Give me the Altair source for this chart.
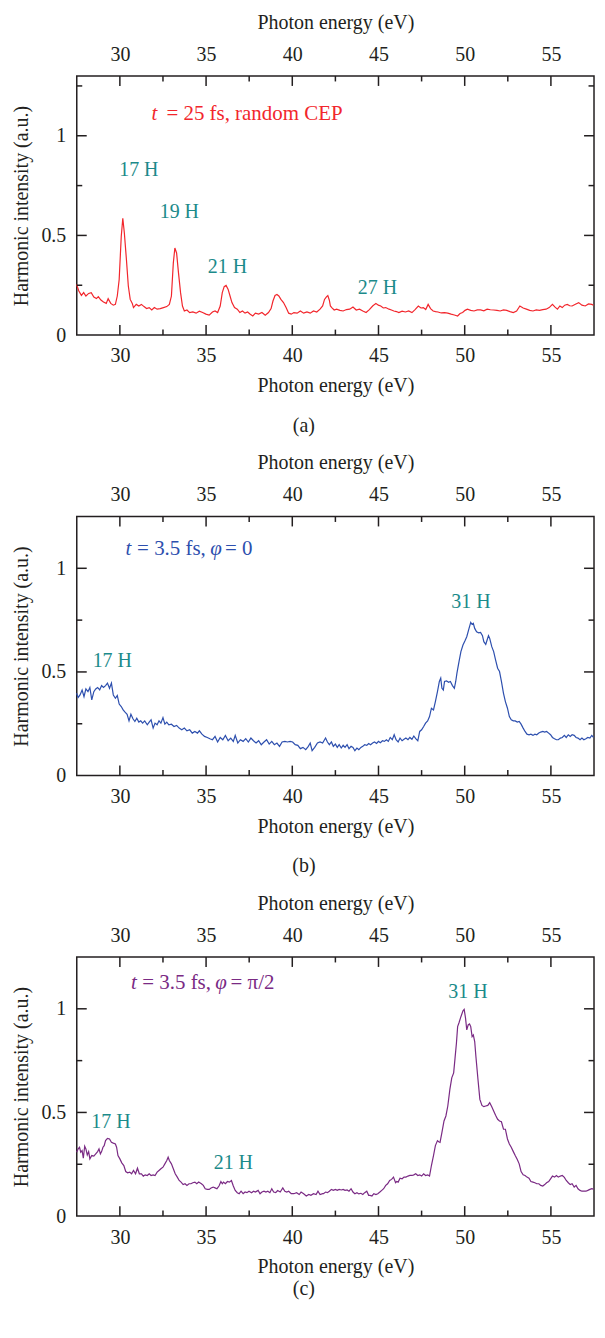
import altair as alt
import pandas as pd

FONT = "Liberation Serif"
INK = "#231f20"
TEAL = "#1c8a8a"
RED = "#f2262c"
BLUE = "#2d4fae"
PURPLE = "#7a2a84"

# ---------------- panel (a): t = 25 fs, random CEP ----------------
energy_a = [27.49, 27.62, 27.77, 27.90, 28.03, 28.19, 28.34, 28.49, 28.64, 28.75, 28.90, 29.05, 29.21, 29.32,
            29.47, 29.62, 29.74, 29.85, 29.96, 30.08, 30.17, 30.26, 30.38, 30.49, 30.60, 30.72, 30.79, 30.95,
            31.10, 31.25, 31.40, 31.55, 31.70, 31.85, 32.00, 32.16, 32.34, 32.53, 32.72, 32.87, 32.99, 33.10,
            33.19, 33.29, 33.40, 33.52, 33.63, 33.74, 33.89, 34.05, 34.23, 34.42, 34.61, 34.80, 34.99, 35.18,
            35.37, 35.52, 35.67, 35.82, 35.94, 36.05, 36.16, 36.28, 36.39, 36.50, 36.65, 36.81, 36.96, 37.11,
            37.26, 37.41, 37.56, 37.71, 37.86, 38.05, 38.24, 38.43, 38.62, 38.77, 38.88, 39.00, 39.11, 39.22,
            39.34, 39.49, 39.64, 39.79, 39.94, 40.09, 40.28, 40.47, 40.66, 40.85, 41.04, 41.23, 41.42, 41.61,
            41.76, 41.87, 41.98, 42.06, 42.15, 42.21, 42.29, 42.43, 42.57, 42.76, 42.95, 43.14, 43.33, 43.52,
            43.71, 43.90, 44.09, 44.28, 44.47, 44.66, 44.85, 44.99, 45.13, 45.28, 45.42, 45.61, 45.75, 45.89,
            46.04, 46.18, 46.37, 46.56, 46.75, 46.94, 47.12, 47.31, 47.46, 47.60, 47.74, 47.88, 48.02, 48.17,
            48.31, 48.45, 48.64, 48.83, 49.02, 49.21, 49.40, 49.59, 49.73, 49.88, 50.02, 50.16, 50.35, 50.54,
            50.73, 50.92, 51.11, 51.30, 51.49, 51.68, 51.87, 52.06, 52.25, 52.44, 52.63, 52.82, 53.01, 53.20,
            53.39, 53.58, 53.77, 53.96, 54.15, 54.34, 54.53, 54.72, 54.90, 55.09, 55.24, 55.38, 55.52, 55.66,
            55.80, 55.95, 56.09, 56.23, 56.42, 56.61, 56.80, 56.99, 57.18, 57.37, 57.47]
intensity_a = [0.254, 0.221, 0.199, 0.213, 0.196, 0.209, 0.213, 0.191, 0.183, 0.193, 0.176, 0.166, 0.159, 0.183,
               0.159, 0.150, 0.154, 0.196, 0.279, 0.495, 0.586, 0.512, 0.379, 0.246, 0.179, 0.159, 0.138, 0.154,
               0.146, 0.154, 0.143, 0.133, 0.138, 0.126, 0.138, 0.130, 0.133, 0.138, 0.143, 0.154, 0.196, 0.362,
               0.437, 0.412, 0.312, 0.213, 0.146, 0.121, 0.126, 0.113, 0.116, 0.110, 0.120, 0.113, 0.105, 0.100,
               0.116, 0.121, 0.113, 0.146, 0.213, 0.243, 0.249, 0.229, 0.196, 0.163, 0.138, 0.130, 0.113, 0.121,
               0.110, 0.116, 0.105, 0.096, 0.110, 0.105, 0.113, 0.100, 0.113, 0.133, 0.171, 0.199, 0.204, 0.196,
               0.179, 0.163, 0.138, 0.110, 0.105, 0.113, 0.110, 0.121, 0.110, 0.116, 0.110, 0.121, 0.116, 0.130,
               0.146, 0.179, 0.192, 0.198, 0.175, 0.146, 0.138, 0.126, 0.130, 0.124, 0.121, 0.128, 0.130, 0.141,
               0.126, 0.130, 0.121, 0.113, 0.128, 0.146, 0.159, 0.150, 0.146, 0.136, 0.138, 0.130, 0.126, 0.121,
               0.118, 0.113, 0.120, 0.116, 0.121, 0.113, 0.128, 0.146, 0.136, 0.138, 0.128, 0.154, 0.133, 0.121,
               0.118, 0.116, 0.111, 0.113, 0.110, 0.105, 0.101, 0.096, 0.108, 0.113, 0.124, 0.130, 0.124, 0.121,
               0.126, 0.126, 0.122, 0.130, 0.127, 0.126, 0.124, 0.121, 0.126, 0.124, 0.118, 0.113, 0.121, 0.146,
               0.136, 0.130, 0.124, 0.121, 0.126, 0.124, 0.128, 0.130, 0.138, 0.154, 0.140, 0.130, 0.146, 0.138,
               0.150, 0.154, 0.147, 0.146, 0.155, 0.163, 0.150, 0.146, 0.156, 0.154, 0.150]

# ---------------- panel (b): t = 3.5 fs, phi = 0 ----------------
energy_b = [27.49, 27.58, 27.69, 27.81, 27.92, 28.03, 28.15, 28.26, 28.37, 28.49, 28.60, 28.71, 28.83, 28.94,
            29.05, 29.17, 29.28, 29.40, 29.51, 29.62, 29.74, 29.85, 29.96, 30.08, 30.19, 30.30, 30.42, 30.53,
            30.64, 30.76, 30.87, 30.98, 31.10, 31.21, 31.32, 31.44, 31.59, 31.70, 31.81, 31.93, 32.04, 32.16,
            32.27, 32.38, 32.50, 32.61, 32.72, 32.84, 32.99, 33.14, 33.29, 33.44, 33.59, 33.74, 33.89, 34.05,
            34.20, 34.35, 34.50, 34.61, 34.76, 34.91, 35.07, 35.22, 35.37, 35.52, 35.67, 35.82, 35.97, 36.12,
            36.28, 36.43, 36.58, 36.69, 36.84, 36.99, 37.15, 37.30, 37.45, 37.60, 37.75, 37.90, 38.05, 38.20,
            38.36, 38.51, 38.66, 38.81, 38.96, 39.11, 39.26, 39.41, 39.57, 39.72, 39.87, 40.02, 40.17, 40.32,
            40.47, 40.62, 40.78, 40.93, 41.04, 41.15, 41.30, 41.46, 41.61, 41.76,
            41.93, 42.04, 42.15, 42.27, 42.38, 42.50, 42.61, 42.72, 42.84, 42.95, 43.06, 43.18, 43.29, 43.41,
            43.52, 43.63, 43.75, 43.86, 43.98, 44.09, 44.20, 44.32, 44.43, 44.54, 44.66, 44.77, 44.89, 45.00,
            45.11, 45.23, 45.34, 45.46, 45.57, 45.68, 45.80, 45.91, 46.02, 46.14, 46.25, 46.37, 46.48, 46.59,
            46.71, 46.82, 46.94, 47.05, 47.16, 47.28, 47.39, 47.50, 47.62, 47.73, 47.85, 47.96, 48.07, 48.19,
            48.30, 48.42, 48.53, 48.61, 48.68, 48.76, 48.83, 48.95, 49.06, 49.17, 49.29, 49.40, 49.48, 49.55,
            49.67, 49.78, 49.90, 50.01, 50.12, 50.24, 50.35, 50.43, 50.50, 50.58, 50.69, 50.81, 50.92, 51.03,
            51.11, 51.22, 51.30, 51.38, 51.45, 51.57, 51.68, 51.79, 51.91, 52.02, 52.13, 52.25, 52.36, 52.48,
            52.59, 52.70, 52.82, 52.93, 53.05, 53.16, 53.27, 53.39, 53.50, 53.61, 53.73, 53.84, 53.96, 54.07,
            54.18, 54.30, 54.41, 54.53, 54.64, 54.75, 54.87, 54.98, 55.09, 55.21, 55.32, 55.43, 55.55, 55.66,
            55.78, 55.89, 56.01, 56.12, 56.23, 56.35, 56.46, 56.57, 56.69, 56.80, 56.91, 57.03, 57.14, 57.26,
            57.37, 57.47]
intensity_b = [0.397, 0.377, 0.389, 0.413, 0.381, 0.418, 0.405, 0.425, 0.365, 0.405, 0.418, 0.425, 0.413, 0.434,
               0.425, 0.434, 0.446, 0.421, 0.446, 0.389, 0.373, 0.386, 0.345, 0.333, 0.317, 0.306, 0.296, 0.264,
               0.296, 0.274, 0.261, 0.277, 0.258, 0.264, 0.253, 0.264, 0.245, 0.258, 0.269, 0.229, 0.253, 0.245,
               0.264, 0.253, 0.280, 0.248, 0.258, 0.245, 0.248, 0.237, 0.242, 0.229, 0.221, 0.229, 0.216, 0.221,
               0.205, 0.213, 0.205, 0.216, 0.200, 0.189, 0.184, 0.178, 0.173, 0.189, 0.162, 0.184, 0.173, 0.194,
               0.168, 0.181, 0.165, 0.194, 0.157, 0.173, 0.165, 0.178, 0.162, 0.181, 0.168, 0.157, 0.168, 0.149,
               0.162, 0.173, 0.152, 0.165, 0.149, 0.157, 0.141, 0.162, 0.165, 0.162, 0.165, 0.162, 0.149, 0.146,
               0.130, 0.136, 0.125, 0.141, 0.157, 0.120, 0.136, 0.157, 0.162, 0.157,
               0.181, 0.162, 0.149, 0.162, 0.141, 0.152, 0.136, 0.149, 0.133, 0.146, 0.136, 0.149, 0.130, 0.141,
               0.136, 0.120, 0.133, 0.125, 0.136, 0.141, 0.149, 0.146, 0.155, 0.149, 0.157, 0.162, 0.155, 0.165,
               0.159, 0.168, 0.165, 0.173, 0.165, 0.184, 0.173, 0.197, 0.173, 0.162, 0.181, 0.168, 0.175, 0.181,
               0.173, 0.184, 0.175, 0.191, 0.178, 0.168, 0.213, 0.221, 0.237, 0.253, 0.264, 0.285, 0.325, 0.317,
               0.357, 0.405, 0.454, 0.470, 0.421, 0.413, 0.454, 0.457, 0.450, 0.454, 0.434, 0.421, 0.454, 0.494,
               0.550, 0.598, 0.630, 0.649, 0.670, 0.707, 0.739, 0.729, 0.734, 0.710, 0.694, 0.689, 0.691, 0.675,
               0.646, 0.633, 0.654, 0.675, 0.662, 0.622, 0.598, 0.558, 0.518, 0.502, 0.454, 0.397, 0.357, 0.325,
               0.285, 0.269, 0.264, 0.264, 0.258, 0.261, 0.248, 0.229, 0.213, 0.200, 0.197, 0.200, 0.194, 0.200,
               0.197, 0.205, 0.210, 0.213, 0.210, 0.213, 0.205, 0.197, 0.184, 0.178, 0.173, 0.173, 0.181, 0.184,
               0.194, 0.184, 0.197, 0.189, 0.197, 0.194, 0.184, 0.181, 0.173, 0.181, 0.173, 0.178, 0.184, 0.181,
               0.194, 0.184]

# ---------------- panel (c): t = 3.5 fs, phi = pi/2 ----------------
energy_c = [27.49, 27.58, 27.66, 27.73, 27.81, 27.88, 27.96, 28.03, 28.11, 28.19, 28.26, 28.37, 28.49, 28.60,
            28.71, 28.79, 28.87, 28.94, 29.02, 29.09, 29.17, 29.28, 29.40, 29.51, 29.62, 29.74, 29.81, 29.89,
            30.00, 30.11, 30.23, 30.34, 30.45, 30.57, 30.68, 30.79, 30.91, 31.02, 31.13, 31.25, 31.36, 31.47,
            31.59, 31.70, 31.81, 31.93, 32.04, 32.16, 32.27, 32.38, 32.50, 32.61, 32.72, 32.80, 32.87, 32.99,
            33.10, 33.21, 33.33, 33.44, 33.55, 33.67, 33.78, 33.89, 34.01, 34.12, 34.23, 34.35, 34.46, 34.57,
            34.73, 34.84, 34.95, 35.07, 35.18, 35.29, 35.41, 35.52, 35.63, 35.75, 35.86, 35.94, 36.01, 36.12,
            36.24, 36.35, 36.47, 36.58, 36.69, 36.81, 36.92, 37.03, 37.15, 37.26, 37.37, 37.49, 37.64, 37.75,
            37.86, 38.02, 38.13, 38.24, 38.36, 38.47, 38.58, 38.70, 38.81, 38.92, 39.04, 39.15, 39.30, 39.45,
            39.57, 39.68, 39.79, 39.94, 40.09, 40.25, 40.40, 40.51, 40.66, 40.81, 40.96, 41.08, 41.23, 41.38,
            41.49, 41.61, 41.76,
            41.81, 41.93, 42.04, 42.15, 42.27, 42.38, 42.50, 42.61, 42.72, 42.84, 42.95, 43.06, 43.18, 43.29,
            43.41, 43.52, 43.63, 43.75, 43.86, 43.98, 44.09, 44.20, 44.32, 44.43, 44.51, 44.62, 44.73, 44.85,
            44.96, 45.08, 45.19, 45.30, 45.42, 45.53, 45.65, 45.76, 45.87, 45.99, 46.06, 46.14, 46.25, 46.37,
            46.48, 46.59, 46.71, 46.82, 46.94, 47.05, 47.16, 47.28, 47.39, 47.50, 47.62, 47.73, 47.85, 47.96,
            48.07, 48.19, 48.30, 48.42, 48.49, 48.57, 48.68, 48.80, 48.91, 49.02, 49.14, 49.25, 49.36, 49.44,
            49.52, 49.59, 49.67, 49.78, 49.90, 49.97, 50.05, 50.12, 50.20, 50.28, 50.35, 50.43, 50.50, 50.58,
            50.65, 50.77, 50.88, 51.00, 51.11, 51.22, 51.34, 51.45, 51.57, 51.68, 51.79, 51.91, 52.02, 52.13,
            52.25, 52.36, 52.48, 52.59, 52.70, 52.82, 52.93, 53.05, 53.16, 53.27, 53.39, 53.50, 53.61, 53.73,
            53.84, 53.96, 54.07, 54.18, 54.30, 54.41, 54.53, 54.64, 54.75, 54.87, 54.98, 55.09, 55.21, 55.32,
            55.43, 55.55, 55.66, 55.78, 55.89, 56.01, 56.12, 56.23, 56.35, 56.46, 56.57, 56.69, 56.80, 56.91,
            57.03, 57.14, 57.26, 57.37, 57.47]
intensity_c = [0.308, 0.324, 0.332, 0.308, 0.316, 0.279, 0.337, 0.324, 0.295, 0.311, 0.276, 0.292, 0.289, 0.300,
               0.311, 0.324, 0.300, 0.311, 0.332, 0.340, 0.364, 0.375, 0.372, 0.356, 0.352, 0.348, 0.332, 0.292,
               0.276, 0.257, 0.244, 0.215, 0.209, 0.212, 0.204, 0.220, 0.204, 0.231, 0.204, 0.204, 0.193, 0.199,
               0.196, 0.204, 0.196, 0.199, 0.196, 0.212, 0.220, 0.228, 0.236, 0.252, 0.268, 0.284, 0.268, 0.252,
               0.228, 0.204, 0.188, 0.172, 0.164, 0.152, 0.156, 0.148, 0.156, 0.156, 0.161, 0.164, 0.156, 0.164,
               0.156, 0.148, 0.132, 0.129, 0.129, 0.136, 0.140, 0.136, 0.132, 0.145, 0.167, 0.156, 0.164, 0.156,
               0.167, 0.164, 0.172, 0.145, 0.124, 0.113, 0.108, 0.120, 0.108, 0.116, 0.113, 0.120, 0.113, 0.120,
               0.116, 0.124, 0.108, 0.116, 0.120, 0.116, 0.120, 0.113, 0.132, 0.116, 0.113, 0.123, 0.116, 0.136,
               0.120, 0.116, 0.120, 0.108, 0.108, 0.113, 0.104, 0.116, 0.108, 0.097, 0.104, 0.100, 0.108, 0.104,
               0.120, 0.104, 0.108,
               0.108, 0.116, 0.113, 0.120, 0.129, 0.124, 0.129, 0.124, 0.129, 0.126, 0.129, 0.124, 0.126, 0.120,
               0.132, 0.116, 0.108, 0.113, 0.107, 0.110, 0.104, 0.113, 0.120, 0.100, 0.100, 0.097, 0.108, 0.104,
               0.108, 0.116, 0.124, 0.132, 0.148, 0.156, 0.172, 0.177, 0.188, 0.161, 0.167, 0.164, 0.183, 0.180,
               0.188, 0.188, 0.193, 0.196, 0.196, 0.199, 0.204, 0.196, 0.199, 0.193, 0.204, 0.196, 0.199, 0.193,
               0.244, 0.292, 0.340, 0.364, 0.359, 0.356, 0.404, 0.459, 0.483, 0.531, 0.611, 0.667, 0.691, 0.762,
               0.834, 0.914, 0.933, 0.962, 0.990, 0.997, 0.954, 0.898, 0.922, 0.927, 0.914, 0.866, 0.874, 0.842,
               0.770, 0.659, 0.563, 0.534, 0.528, 0.531, 0.534, 0.547, 0.528, 0.507, 0.486, 0.467, 0.459, 0.455,
               0.419, 0.419, 0.372, 0.348, 0.332, 0.311, 0.292, 0.273, 0.252, 0.215, 0.199, 0.196, 0.188, 0.183,
               0.167, 0.164, 0.161, 0.156, 0.156, 0.148, 0.145, 0.152, 0.161, 0.167, 0.180, 0.193, 0.188, 0.196,
               0.188, 0.193, 0.196, 0.187, 0.172, 0.161, 0.152, 0.156, 0.140, 0.148, 0.132, 0.124, 0.120, 0.120,
               0.120, 0.124, 0.129, 0.132, 0.130]

# ---------------- annotations ----------------
note_a_italic = ["t"]
note_a_italic_x = [31.84]
note_a_normal = ["= 25 fs, random CEP"]
note_a_normal_x = [32.70]
note_a_y = 1.11
harm_a = ["17 H", "19 H", "21 H", "27 H"]
harm_a_x = [31.10, 33.45, 36.24, 44.94]
harm_a_y = [0.827, 0.617, 0.343, 0.238]

note_b_italic = ["t", "φ"]
note_b_italic_x = [30.32, 35.24]
note_b_normal = ["= 3.5 fs,", "= 0"]
note_b_normal_x = [31.00, 36.10]
note_b_y = 1.095
harm_b = ["17 H", "31 H"]
harm_b_x = [29.56, 50.36]
harm_b_y = [0.552, 0.838]

note_c_italic = ["t", "φ"]
note_c_italic_x = [30.65, 35.53]
note_c_normal = ["= 3.5 fs,", "= π/2"]
note_c_normal_x = [31.30, 36.42]
note_c_y = 1.123
harm_c = ["17 H", "21 H", "31 H"]
harm_c_x = [29.48, 36.58, 50.19]
harm_c_y = [0.454, 0.255, 1.080]

# tick positions
x_major = [30, 35, 40, 45, 50, 55]
x_minor = [32.5, 37.5, 42.5, 47.5, 52.5]
y_major = [0.5, 1.0]

W, H = 519, 260
FS = 20
HS = 20
MAJ, MIN = 10, 5.5


def panel(E, I, color, ymax, it_txt, it_x, nm_txt, nm_x, note_y, h_txt, h_x, h_y, letter, letter_off):
    df = pd.DataFrame({"E": E, "I": I})
    xs = alt.Scale(domain=[27.5, 57.5], nice=False, zero=False)
    ys = alt.Scale(domain=[0, ymax], nice=False, zero=False)
    y_minor = [0.25, 0.75] + ([1.25] if ymax > 1.26 else [])

    def X(field, axis=None):
        return alt.X(field, scale=xs, axis=axis)

    def Y(field, axis=None):
        return alt.Y(field, scale=ys, axis=axis)

    line = alt.Chart(df).mark_line(color=color, strokeWidth=1.2).encode(
        x=X("E:Q", alt.Axis(orient="bottom", values=x_major, ticks=False, domain=False, grid=False,
                            labelPadding=11, format="d", title="Photon energy (eV)", titlePadding=10)),
        y=Y("I:Q", alt.Axis(orient="left", values=[0, 0.5, 1], ticks=False, domain=False, grid=False,
                            labelExpr="datum.value == 0 ? '0' : datum.value == 0.5 ? '0.5' : '1'",
                            labelPadding=11, title="Harmonic intensity (a.u.)", titlePadding=9)),
    )
    top = alt.Chart(df).mark_line(strokeOpacity=0).encode(
        x=X("E:Q", alt.Axis(orient="top", values=x_major, ticks=False, domain=False, grid=False,
                            labelPadding=12, format="d", title="Photon energy (eV)", titlePadding=12)),
        y=Y("I:Q"),
    )

    # inward ticks, placed along the axes by the scales
    xt_maj = pd.DataFrame({"v": x_major})
    xt_min = pd.DataFrame({"v": x_minor})
    yt_maj = pd.DataFrame({"v": y_major})
    yt_min = pd.DataFrame({"v": y_minor})
    rule = dict(color=INK, strokeWidth=1.5)
    ticks = [
        alt.Chart(xt_maj).mark_rule(**rule).encode(x=X("v:Q"), y=alt.value(H), y2=alt.value(H - MAJ)),
        alt.Chart(xt_min).mark_rule(**rule).encode(x=X("v:Q"), y=alt.value(H), y2=alt.value(H - MIN)),
        alt.Chart(xt_maj).mark_rule(**rule).encode(x=X("v:Q"), y=alt.value(0), y2=alt.value(MAJ)),
        alt.Chart(xt_min).mark_rule(**rule).encode(x=X("v:Q"), y=alt.value(0), y2=alt.value(MIN)),
        alt.Chart(yt_maj).mark_rule(**rule).encode(y=Y("v:Q"), x=alt.value(0), x2=alt.value(MAJ)),
        alt.Chart(yt_min).mark_rule(**rule).encode(y=Y("v:Q"), x=alt.value(0), x2=alt.value(MIN)),
        alt.Chart(yt_maj).mark_rule(**rule).encode(y=Y("v:Q"), x=alt.value(W), x2=alt.value(W - MAJ)),
        alt.Chart(yt_min).mark_rule(**rule).encode(y=Y("v:Q"), x=alt.value(W), x2=alt.value(W - MIN)),
    ]

    it_df = pd.DataFrame({"E": it_x, "I": [note_y] * len(it_x), "T": it_txt})
    nm_df = pd.DataFrame({"E": nm_x, "I": [note_y] * len(nm_x), "T": nm_txt})
    h_df = pd.DataFrame({"E": h_x, "I": h_y, "T": h_txt})
    enc = dict(x=X("E:Q"), y=Y("I:Q"), text="T:N")
    t_it = alt.Chart(it_df).mark_text(align="left", baseline="middle", font=FONT, fontSize=21,
                                      fontStyle="italic", color=color).encode(**enc)
    t_nm = alt.Chart(nm_df).mark_text(align="left", baseline="middle", font=FONT, fontSize=21,
                                      color=color).encode(**enc)
    t_h = alt.Chart(h_df).mark_text(align="center", baseline="middle", font=FONT, fontSize=HS,
                                    color=TEAL).encode(**enc)
    return alt.layer(line, top, *ticks, t_it, t_nm, t_h).resolve_axis(
        x="independent", y="independent"
    ).properties(
        width=W, height=H,
        title=alt.TitleParams(letter, orient="bottom", anchor="middle", frame="bounds", font=FONT,
                              fontSize=FS, fontWeight="normal", color=INK, offset=letter_off),
    )


pa = panel(energy_a, intensity_a, RED, 1.3, note_a_italic, note_a_italic_x, note_a_normal, note_a_normal_x,
           note_a_y, harm_a, harm_a_x, harm_a_y, "(a)", 20)
pb = panel(energy_b, intensity_b, BLUE, 1.25, note_b_italic, note_b_italic_x, note_b_normal, note_b_normal_x,
           note_b_y, harm_b, harm_b_x, harm_b_y, "(b)", 20)
pc = panel(energy_c, intensity_c, PURPLE, 1.25, note_c_italic, note_c_italic_x, note_c_normal, note_c_normal_x,
           note_c_y, harm_c, harm_c_x, harm_c_y, "(c)", 2)

chart = alt.vconcat(pa, pb, pc, spacing=15).properties(
    padding={"left": 3, "top": 1, "right": 0, "bottom": 0}
).configure_axis(
    labelFont=FONT, titleFont=FONT, labelFontSize=FS, titleFontSize=FS, labelColor=INK, titleColor=INK,
    titleFontWeight="normal",
).configure_view(stroke=INK, strokeWidth=1.5)

chart.save("out.html", embed_options={"renderer": "svg", "actions": False})
